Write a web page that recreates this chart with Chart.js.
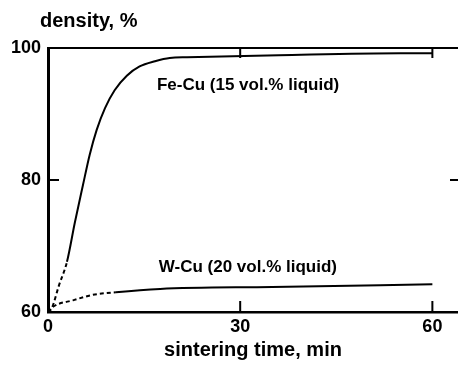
<!DOCTYPE html>
<html lang="en">
<head>
    <meta charset="UTF-8">
    <title>Density vs sintering time</title>
    <style>
        body {
            margin: 0;
            background: #ffffff;
        }
        .wrap {
            position: relative;
            width: 458px;
            height: 374px;
        }
    </style>
</head>
<body>
    <div class="wrap">
        <canvas id="densityChart"></canvas>
    </div>

    <script src="https://cdn.jsdelivr.net/npm/chart.js"></script>
    <script>
        // values (time in min, density in %)
        const feCuTime    = [0, 0.6, 1.7, 2.96, 4.2, 5.45, 6.5, 7.6, 8.9, 10.4, 12.3, 14.3, 16.7, 19.0, 21.7, 36, 55, 60];
        const feCuDensity = [60, 60.6, 64.0, 67.6, 73.6, 79.2, 83.8, 87.6, 90.9, 93.6, 95.8, 97.2, 98.0, 98.5, 98.6, 98.9, 99.2, 99.2];
        const feCuDashedUntil = 2.96;

        const wCuTime    = [0, 0.8, 4.0, 7.0, 10.6, 17.5, 35, 60];
        const wCuDensity = [60, 60.8, 61.8, 62.6, 63.0, 63.5, 63.8, 64.2];
        const wCuDashedUntil = 10.6;

        const xTicks = [0, 30, 60];
        const yTicks = [60, 80, 100];

        const feCuLabel = 'Fe-Cu (15 vol.% liquid)';
        const wCuLabel = 'W-Cu (20 vol.% liquid)';

        const FONT = "'Liberation Sans', Arial, sans-serif";

        function toPoints(xs, ys) {
            return xs.map((x, i) => ({ x: x, y: ys[i] }));
        }

        function dashUntil(limit) {
            return ctx => ctx.p1.parsed.x <= limit ? [4, 3] : undefined;
        }

        // frame top line, inward tick marks and the text labels
        const decorations = {
            id: 'decorations',
            afterDraw(chart) {
                const ctx = chart.ctx;
                const area = chart.chartArea;
                const xs = chart.scales.x;
                const ys = chart.scales.y;
                ctx.save();
                ctx.strokeStyle = '#000';
                ctx.lineWidth = 2;

                ctx.beginPath();
                ctx.moveTo(area.left, area.top);
                ctx.lineTo(area.right, area.top);
                ctx.stroke();

                xTicks.slice(1).forEach(v => {
                    const px = xs.getPixelForValue(v);
                    ctx.beginPath();
                    ctx.moveTo(px, area.top);
                    ctx.lineTo(px, area.top + 10);
                    ctx.moveTo(px, area.bottom);
                    ctx.lineTo(px, area.bottom - 11);
                    ctx.stroke();
                });

                const py = ys.getPixelForValue(80);
                ctx.beginPath();
                ctx.moveTo(area.left, py);
                ctx.lineTo(area.left + 11, py);
                ctx.moveTo(area.right - 8, py);
                ctx.lineTo(area.right, py);
                ctx.stroke();

                ctx.fillStyle = '#000';
                ctx.textBaseline = 'middle';
                ctx.textAlign = 'left';
                ctx.font = 'bold 20px ' + FONT;
                ctx.fillText('density, %', 40, 21);

                ctx.font = 'bold 17px ' + FONT;
                ctx.fillText(feCuLabel, xs.getPixelForValue(17), ys.getPixelForValue(94.4));
                ctx.fillText(wCuLabel, xs.getPixelForValue(17.3), ys.getPixelForValue(66.7));
                ctx.restore();
            }
        };

        const chart = new Chart(document.getElementById('densityChart'), {
            type: 'line',
            data: {
                datasets: [
                    {
                        label: feCuLabel,
                        data: toPoints(feCuTime, feCuDensity),
                        borderColor: '#000',
                        borderWidth: 2,
                        pointRadius: 0,
                        cubicInterpolationMode: 'monotone',
                        segment: { borderDash: dashUntil(feCuDashedUntil) }
                    },
                    {
                        label: wCuLabel,
                        data: toPoints(wCuTime, wCuDensity),
                        borderColor: '#000',
                        borderWidth: 2,
                        pointRadius: 0,
                        cubicInterpolationMode: 'monotone',
                        segment: { borderDash: dashUntil(wCuDashedUntil) }
                    }
                ]
            },
            options: {
                responsive: true,
                maintainAspectRatio: false,
                animation: false,
                layout: { padding: { top: 48, right: 0, bottom: 0, left: 0 } },
                plugins: {
                    legend: { display: false },
                    tooltip: { enabled: false }
                },
                scales: {
                    x: {
                        type: 'linear',
                        min: 0,
                        max: 64,
                        afterBuildTicks: scale => { scale.ticks = xTicks.map(v => ({ value: v })); },
                        afterFit: scale => { scale.height = 62; },
                        grid: { display: false, drawTicks: false },
                        border: { display: true, color: '#000', width: 2.5 },
                        ticks: {
                            color: '#000',
                            padding: 4,
                            maxRotation: 0,
                            font: { family: FONT, size: 18, weight: 'bold' }
                        },
                        title: {
                            display: true,
                            text: 'sintering time, min',
                            color: '#000',
                            padding: { top: 0, bottom: 12 },
                            font: { family: FONT, size: 20, weight: 'bold' }
                        }
                    },
                    y: {
                        min: 60,
                        max: 100,
                        afterBuildTicks: scale => { scale.ticks = yTicks.map(v => ({ value: v })); },
                        afterFit: scale => { scale.width = 48; },
                        grid: { display: false, drawTicks: false },
                        border: { display: true, color: '#000', width: 3 },
                        ticks: {
                            color: '#000',
                            padding: 7,
                            font: { family: FONT, size: 18, weight: 'bold' }
                        }
                    }
                }
            },
            plugins: [decorations]
        });
    </script>
</body>
</html>
